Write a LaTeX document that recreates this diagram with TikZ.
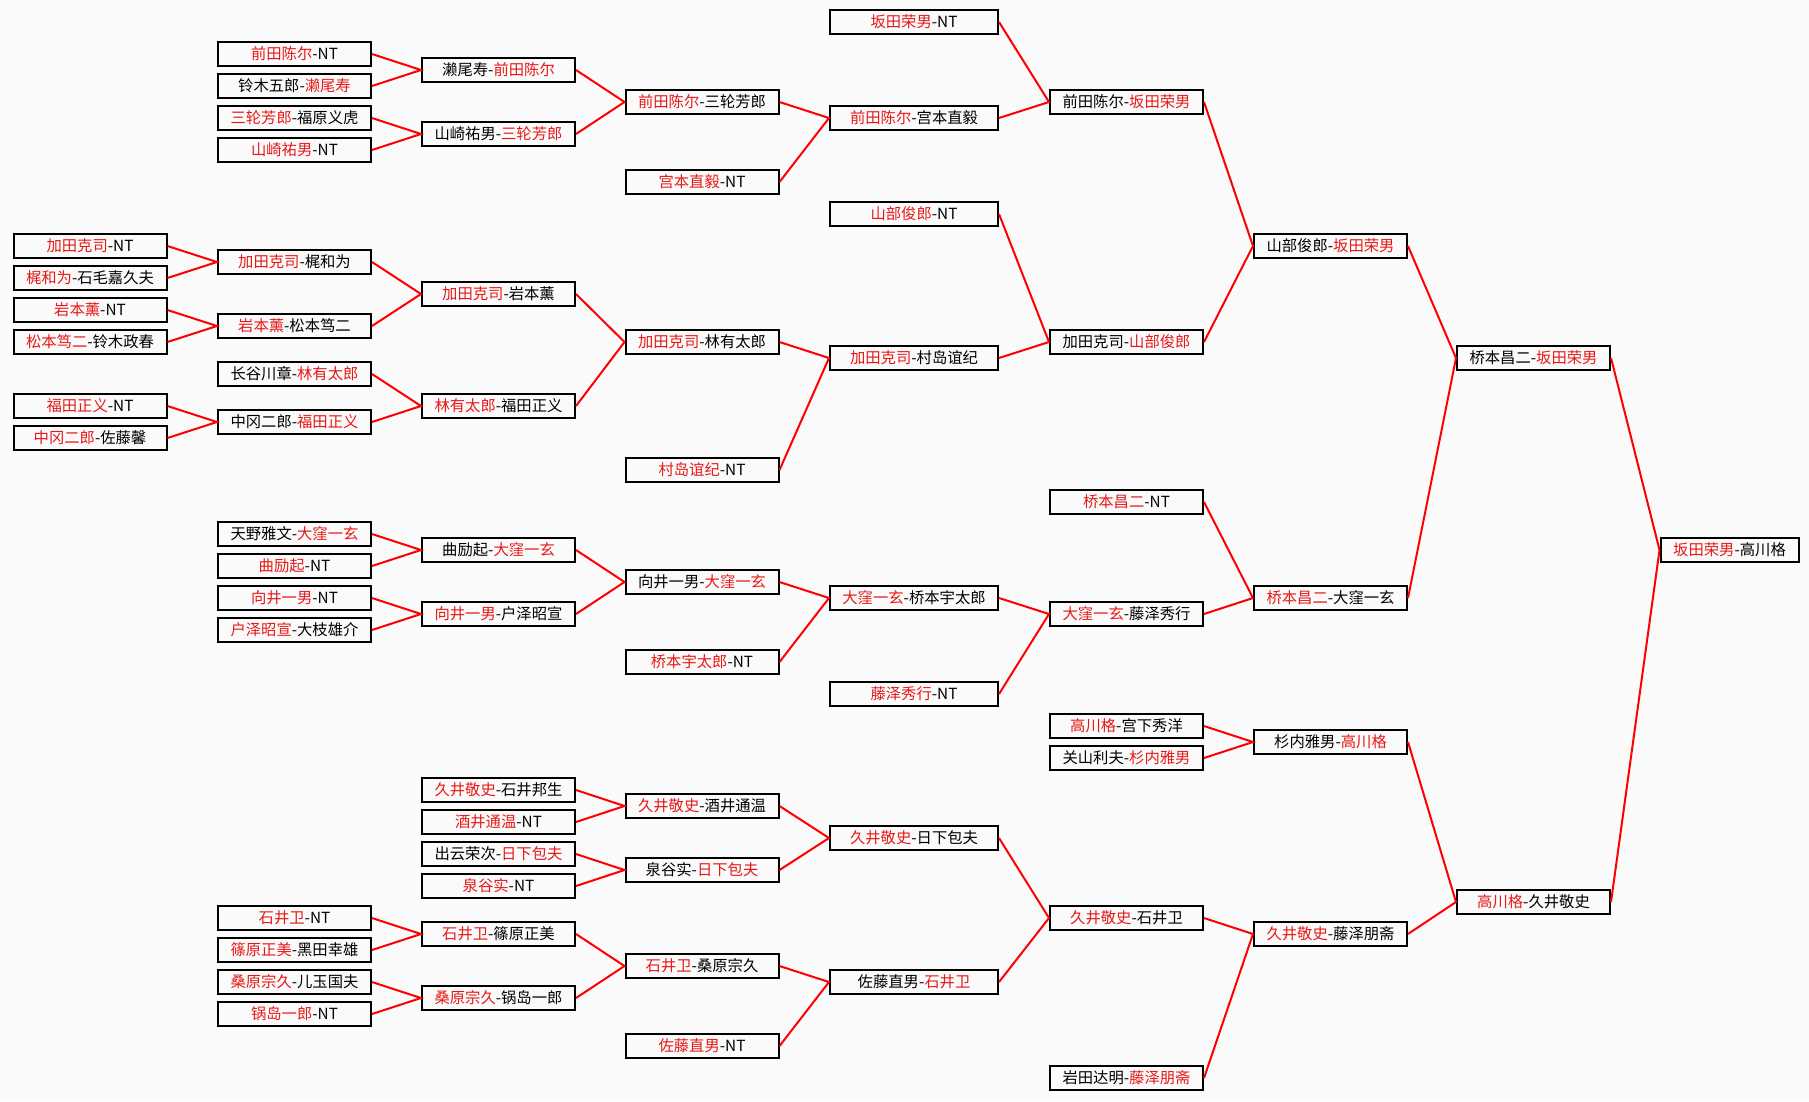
\documentclass[tikz,border=0pt]{standalone}
\usepackage{fontspec}
\usepackage{xcolor}
\newfontfamily\cjk{Noto Sans CJK SC}
\definecolor{paper}{RGB}{250,250,250}
\definecolor{winred}{RGB}{232,24,24}
\newcommand{\wn}[1]{\textcolor{winred}{#1}}
\tikzset{
  pbox/.style={draw=black, line width=1.5pt, minimum width=114.75pt, minimum height=18pt,
    inner sep=0pt, font=\cjk\fontsize{11.5}{12}\selectfont},
  wbox/.style={pbox, minimum width=126pt},
  fbox/.style={pbox, minimum width=103.5pt},
  link/.style={red, line width=1.5pt},
}
\begin{document}
\begin{tikzpicture}[x=0.75pt, y=-0.75pt]
	\fill[paper] (0,0) rectangle (1809,1101);
	% first round
	\node[pbox] (a14) at (90,246) {\wn{加田克司}-NT};
	\node[pbox] (a16) at (90,278) {\wn{梶和为}-石毛嘉久夫};
	\node[pbox] (a18) at (90,310) {\wn{岩本薰}-NT};
	\node[pbox] (a20) at (90,342) {\wn{松本笃二}-铃木政春};
	\node[pbox] (a24) at (90,406) {\wn{福田正义}-NT};
	\node[pbox] (a26) at (90,438) {\wn{中冈二郎}-佐藤馨};
	% second round
	\node[pbox] (b2) at (294.5,54) {\wn{前田陈尔}-NT};
	\node[pbox] (b4) at (294.5,86) {铃木五郎-\wn{濑尾寿}};
	\node[pbox] (b6) at (294.5,118) {\wn{三轮芳郎}-福原义虎};
	\node[pbox] (b8) at (294.5,150) {\wn{山崎祐男}-NT};
	\node[pbox] (b15) at (294.5,262) {\wn{加田克司}-梶和为};
	\node[pbox] (b19) at (294.5,326) {\wn{岩本薰}-松本笃二};
	\node[pbox] (b22) at (294.5,374) {长谷川章-\wn{林有太郎}};
	\node[pbox] (b25) at (294.5,422) {中冈二郎-\wn{福田正义}};
	\node[pbox] (b32) at (294.5,534) {天野雅文-\wn{大窪一玄}};
	\node[pbox] (b34) at (294.5,566) {\wn{曲励起}-NT};
	\node[pbox] (b36) at (294.5,598) {\wn{向井一男}-NT};
	\node[pbox] (b38) at (294.5,630) {\wn{户泽昭宣}-大枝雄介};
	\node[pbox] (b56) at (294.5,918) {\wn{石井卫}-NT};
	\node[pbox] (b58) at (294.5,950) {\wn{篠原正美}-黑田幸雄};
	\node[pbox] (b60) at (294.5,982) {\wn{桑原宗久}-儿玉国夫};
	\node[pbox] (b62) at (294.5,1014) {\wn{锅岛一郎}-NT};
	% third round
	\node[pbox] (c3) at (498.5,70) {濑尾寿-\wn{前田陈尔}};
	\node[pbox] (c7) at (498.5,134) {山崎祐男-\wn{三轮芳郎}};
	\node[pbox] (c17) at (498.5,294) {\wn{加田克司}-岩本薰};
	\node[pbox] (c24) at (498.5,406) {\wn{林有太郎}-福田正义};
	\node[pbox] (c33) at (498.5,550) {曲励起-\wn{大窪一玄}};
	\node[pbox] (c37) at (498.5,614) {\wn{向井一男}-户泽昭宣};
	\node[pbox] (c48) at (498.5,790) {\wn{久井敬史}-石井邦生};
	\node[pbox] (c50) at (498.5,822) {\wn{酒井通温}-NT};
	\node[pbox] (c52) at (498.5,854) {出云荣次-\wn{日下包夫}};
	\node[pbox] (c54) at (498.5,886) {\wn{泉谷实}-NT};
	\node[pbox] (c57) at (498.5,934) {\wn{石井卫}-篠原正美};
	\node[pbox] (c61) at (498.5,998) {\wn{桑原宗久}-锅岛一郎};
	% fourth round
	\node[pbox] (d5) at (702,102) {\wn{前田陈尔}-三轮芳郎};
	\node[pbox] (d10) at (702,182) {\wn{宫本直毅}-NT};
	\node[pbox] (d20) at (702,342) {\wn{加田克司}-林有太郎};
	\node[pbox] (d28) at (702,470) {\wn{村岛谊纪}-NT};
	\node[pbox] (d35) at (702,582) {向井一男-\wn{大窪一玄}};
	\node[pbox] (d40) at (702,662) {\wn{桥本宇太郎}-NT};
	\node[pbox] (d49) at (702,806) {\wn{久井敬史}-酒井通温};
	\node[pbox] (d53) at (702,870) {泉谷实-\wn{日下包夫}};
	\node[pbox] (d59) at (702,966) {\wn{石井卫}-桑原宗久};
	\node[pbox] (d64) at (702,1046) {\wn{佐藤直男}-NT};
	% fifth round
	\node[wbox] (e0) at (914,22) {\wn{坂田荣男}-NT};
	\node[wbox] (e6) at (914,118) {\wn{前田陈尔}-宫本直毅};
	\node[wbox] (e12) at (914,214) {\wn{山部俊郎}-NT};
	\node[wbox] (e21) at (914,358) {\wn{加田克司}-村岛谊纪};
	\node[wbox] (e36) at (914,598) {\wn{大窪一玄}-桥本宇太郎};
	\node[wbox] (e42) at (914,694) {\wn{藤泽秀行}-NT};
	\node[wbox] (e51) at (914,838) {\wn{久井敬史}-日下包夫};
	\node[wbox] (e60) at (914,982) {佐藤直男-\wn{石井卫}};
	% sixth round
	\node[pbox] (f5) at (1126.5,102) {前田陈尔-\wn{坂田荣男}};
	\node[pbox] (f20) at (1126.5,342) {加田克司-\wn{山部俊郎}};
	\node[pbox] (f30) at (1126.5,502) {\wn{桥本昌二}-NT};
	\node[pbox] (f37) at (1126.5,614) {\wn{大窪一玄}-藤泽秀行};
	\node[pbox] (f44) at (1126.5,726) {\wn{高川格}-宫下秀洋};
	\node[pbox] (f46) at (1126.5,758) {关山利夫-\wn{杉内雅男}};
	\node[pbox] (f56) at (1126.5,918) {\wn{久井敬史}-石井卫};
	\node[pbox] (f66) at (1126.5,1078) {岩田达明-\wn{藤泽朋斋}};
	% quarter and semi finals
	\node[pbox] (g14) at (1330.5,246) {山部俊郎-\wn{坂田荣男}};
	\node[pbox] (g36) at (1330.5,598) {\wn{桥本昌二}-大窪一玄};
	\node[pbox] (g45) at (1330.5,742) {杉内雅男-\wn{高川格}};
	\node[pbox] (g57) at (1330.5,934) {\wn{久井敬史}-藤泽朋斋};
	\node[pbox] (h21) at (1533.5,358) {桥本昌二-\wn{坂田荣男}};
	\node[pbox] (h55) at (1533.5,902) {\wn{高川格}-久井敬史};
	% final
	\node[fbox] (i33) at (1729.5,550) {\wn{坂田荣男}-高川格};
	% links
	\draw[link] (a14.east) -- (b15.west) -- (a16.east);
	\draw[link] (a18.east) -- (b19.west) -- (a20.east);
	\draw[link] (a24.east) -- (b25.west) -- (a26.east);
	\draw[link] (b2.east) -- (c3.west) -- (b4.east);
	\draw[link] (b6.east) -- (c7.west) -- (b8.east);
	\draw[link] (b15.east) -- (c17.west) -- (b19.east);
	\draw[link] (b22.east) -- (c24.west) -- (b25.east);
	\draw[link] (b32.east) -- (c33.west) -- (b34.east);
	\draw[link] (b36.east) -- (c37.west) -- (b38.east);
	\draw[link] (b56.east) -- (c57.west) -- (b58.east);
	\draw[link] (b60.east) -- (c61.west) -- (b62.east);
	\draw[link] (c3.east) -- (d5.west) -- (c7.east);
	\draw[link] (c17.east) -- (d20.west) -- (c24.east);
	\draw[link] (c33.east) -- (d35.west) -- (c37.east);
	\draw[link] (c48.east) -- (d49.west) -- (c50.east);
	\draw[link] (c52.east) -- (d53.west) -- (c54.east);
	\draw[link] (c57.east) -- (d59.west) -- (c61.east);
	\draw[link] (d5.east) -- (e6.west) -- (d10.east);
	\draw[link] (d20.east) -- (e21.west) -- (d28.east);
	\draw[link] (d35.east) -- (e36.west) -- (d40.east);
	\draw[link] (d49.east) -- (e51.west) -- (d53.east);
	\draw[link] (d59.east) -- (e60.west) -- (d64.east);
	\draw[link] (e0.east) -- (f5.west) -- (e6.east);
	\draw[link] (e12.east) -- (f20.west) -- (e21.east);
	\draw[link] (e36.east) -- (f37.west) -- (e42.east);
	\draw[link] (e51.east) -- (f56.west) -- (e60.east);
	\draw[link] (f5.east) -- (g14.west) -- (f20.east);
	\draw[link] (f30.east) -- (g36.west) -- (f37.east);
	\draw[link] (f44.east) -- (g45.west) -- (f46.east);
	\draw[link] (f56.east) -- (g57.west) -- (f66.east);
	\draw[link] (g14.east) -- (h21.west) -- (g36.east);
	\draw[link] (g45.east) -- (h55.west) -- (g57.east);
	\draw[link] (h21.east) -- (i33.west) -- (h55.east);
\end{tikzpicture}
\end{document}
